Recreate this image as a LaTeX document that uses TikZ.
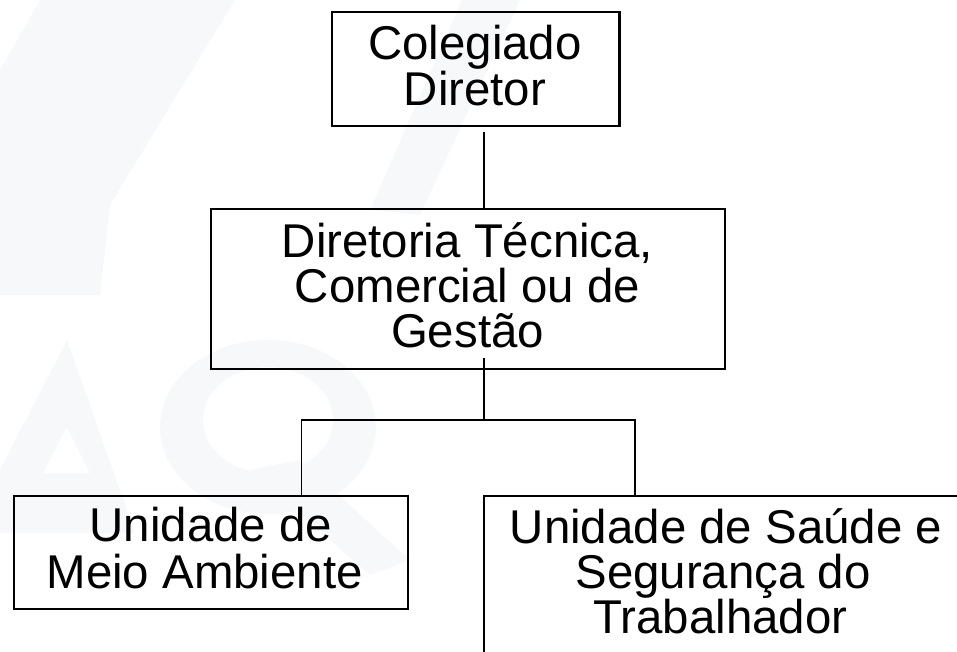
\documentclass[tikz,border=0pt]{standalone}
\usepackage{fontspec}
\setmainfont{Liberation Sans}
\definecolor{wm}{RGB}{246,248,250}
\begin{document}
\begin{tikzpicture}[x=1pt,y=-1pt,
  box/.style={draw=black,line width=2.1pt,inner sep=0pt},
  conn/.style={draw=black,line width=1.8pt},
  txt/.style={inner sep=0pt,anchor=base,font=\fontsize{47.4}{45}\selectfont}]
\useasboundingbox (0,0) rectangle (957,652);
\clip (0,0) rectangle (957,652);
% faint watermark
\fill[wm] (0,70) -- (40,0) -- (235,0) -- (110,205) -- (100,295) -- (0,295) -- cycle;
\fill[wm] (462,0) -- (520,0) -- (420,215) -- (370,210) -- cycle;
\fill[wm,even odd rule] (67,340) -- (135,533) -- (0,533) -- (0,470) -- cycle
  (67,427) -- (90,473) -- (43,473) -- cycle;
\fill[wm,even odd rule] (268,427) ellipse (108 and 87) (268,420) ellipse (65 and 53);
\fill[wm] (250,470) -- (300,460) -- (410,560) -- (370,575) -- cycle;
% boxes
\node[box,minimum width=287.8pt,minimum height=114pt] (top) at (475.6,68.6) {};
\node[box,minimum width=514pt,minimum height=160.1pt] (mid) at (468,288.75) {};
\node[box,minimum width=394pt,minimum height=113.3pt] (left) at (211,552.35) {};
\node[box,minimum width=486.3pt,minimum height=164.3pt] (right) at (726.85,577.85) {};
% texts
\node[txt] (t1) at (475,59.3) {Colegiado};
\node[txt] (t2) at (475,106) {Diretor};
\node[txt] (m1) at (467.5,257) {Diretoria Técnica,};
\node[txt] (m2) at (467.5,302) {Comercial ou de};
\node[txt] (m3) at (467.5,347) {Gestão};
\node[txt] (l1) at (211,541.7) {Unidade de};
\node[txt] (l2) at (204.7,588.3) {Meio Ambiente};
\node[txt] (r1) at (726,543.3) {Unidade de Saúde e};
\node[txt] (r2) at (723,588.3) {Segurança do};
\node[txt] (r3) at (720.5,633.3) {Trabalhador};
% connectors
\coordinate (c1) at (483.7,132);
\coordinate (c2) at (483.7,358.4);
\coordinate (hub) at (483.7,420);
\coordinate (hl) at (301.5,420);
\coordinate (hr) at (634.7,420);
\draw[conn] (c1) -- (c1 |- mid.north);
\draw[conn] (c2) -- (hub);
\draw[conn] (hl |- left.north) -- (hl) -- (hr) -- (hr |- right.north);
\end{tikzpicture}
\end{document}
